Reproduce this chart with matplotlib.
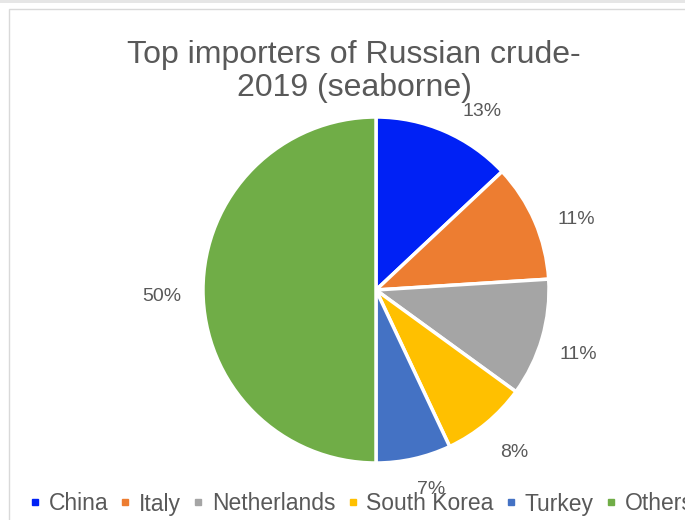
import matplotlib
matplotlib.use("Agg")
import matplotlib.pyplot as plt
from matplotlib.lines import Line2D
from matplotlib.patches import Rectangle

plt.rcParams['font.family'] = ['Liberation Sans', 'DejaVu Sans']

countries = ["China", "Italy", "Netherlands", "South Korea", "Turkey", "Others"]
shares = [13, 11, 11, 8, 7, 50]
colors = ["#0021F5", "#ED7D31", "#A5A5A5", "#FFC000", "#4472C4", "#70AD47"]
title = "Top importers of Russian crude-\n2019 (seaborne)"
text_color = "#595959"

W, H = 685, 520
fig = plt.figure(figsize=(W / 100, H / 100), dpi=100)
fig.patch.set_facecolor("white")

# chart frame: thin gray strip across the top, bordered chart area below it
fig.add_artist(Rectangle((0, 1 - 3 / H), 1, 3 / H, transform=fig.transFigure,
                         facecolor="#E6E6E6", edgecolor="none"))
fig.add_artist(Rectangle((9 / W, -0.1), 1.2, 1 - 9 / H + 0.1, transform=fig.transFigure,
                         facecolor="none", edgecolor="#D9D9D9", linewidth=1.0))

cx, cy, r = 376, 290, 173
ax = fig.add_axes([(cx - r) / W, (H - cy - r) / H, 2 * r / W, 2 * r / H])
wedges, _, pcts = ax.pie(
    shares, colors=colors, startangle=90, counterclock=False,
    autopct=lambda p: f"{p:.0f}%", pctdistance=1.22,
    wedgeprops=dict(edgecolor="white", linewidth=2.5),
    textprops=dict(color=text_color, fontsize=14),
)
# best-fit style placement: nudge each percentage label a little
nudges = [(0.13, -0.09), (0.04, -0.075), (0.0, -0.035), (0.02, 0.0), (0.05, 0.04), (-0.02, -0.04)]
for t, (dx, dy) in zip(pcts, nudges):
    x, y = t.get_position()
    t.set_position((x + dx, y + dy))
ax.set_xlim(-1, 1)
ax.set_ylim(-1, 1)
ax.set_aspect("equal")

fig.text(354 / W, 1 - 96 / H, title, ha="center", va="baseline", fontsize=23,
         color=text_color, linespacing=1.13, multialignment="center")

handles = [Line2D([], [], marker="s", linestyle="none", markersize=5,
                  markerfacecolor=c, markeredgecolor=c) for c in colors]
fig.legend(handles, countries, loc="center left", bbox_to_anchor=(29 / W, 1 - 504 / H),
           ncol=6, frameon=False, fontsize=16.5, labelcolor=text_color,
           handlelength=0.5, handletextpad=0.35, columnspacing=0.5,
           borderaxespad=0, borderpad=0)

fig.savefig("out.png", dpi=100, facecolor="white")
